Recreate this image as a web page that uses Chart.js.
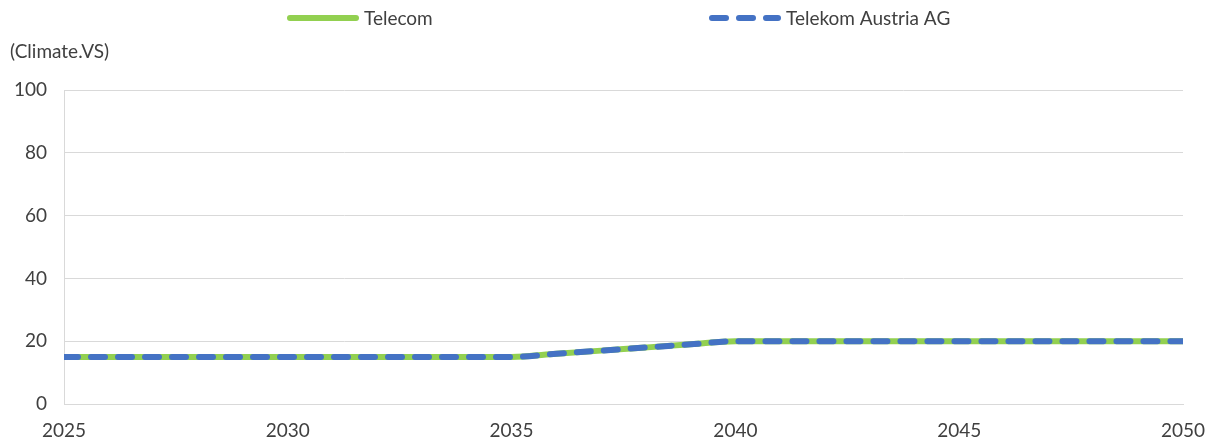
<!DOCTYPE html>
<html>
<head>
<meta charset="utf-8">
<script src="https://cdn.jsdelivr.net/npm/chart.js@4.4.1/dist/chart.umd.min.js"></script>
<style>
  html, body { margin: 0; padding: 0; background: #ffffff; }
  #wrap { position: relative; width: 1206px; height: 442px; }
</style>
</head>
<body>
<div id="wrap"><canvas id="chart"></canvas></div>
<script>
  var years = [2025, 2026, 2027, 2028, 2029, 2030, 2031, 2032, 2033, 2034, 2035, 2036, 2037,
    2038, 2039, 2040, 2041, 2042, 2043, 2044, 2045, 2046, 2047, 2048, 2049, 2050];
  var telecom = [15, 15, 15, 15, 15, 15, 15, 15, 15, 15, 15, 16, 17,
    18, 19, 20, 20, 20, 20, 20, 20, 20, 20, 20, 20, 20];
  var telekomAustria = [15, 15, 15, 15, 15, 15, 15, 15, 15, 15, 15, 16, 17,
    18, 19, 20, 20, 20, 20, 20, 20, 20, 20, 20, 20, 20];
  var seriesNames = ['Telecom', 'Telekom Austria AG'];
  var yTicks = [0, 20, 40, 60, 80, 100];
  var xTicks = [2025, 2030, 2035, 2040, 2045, 2050];
  var unitLabel = '(Climate.VS)';

  var textColor = '#404040';
  var gridColor = '#d9d9d9';
  var fontFamily = 'Lato, "Open Sans", sans-serif';
  var fontSize = 19;

  function points(values) {
    return years.map(function (y, i) {
      return { x: y, y: values[i] };
    });
  }

  // legend drawn by hand: Excel-style spacing cannot be done with built-in legend
  var extras = {
    id: 'extras',
    afterDraw: function (chart) {
      var ctx = chart.ctx;
      var items = [
        { ds: chart.data.datasets[0], x: 287 },
        { ds: chart.data.datasets[1], x: 709 },
      ];
      ctx.save();
      ctx.font = fontSize + 'px ' + fontFamily;
      ctx.textBaseline = 'middle';
      ctx.fillStyle = textColor;
      items.forEach(function (it) {
        var y = 18;
        ctx.beginPath();
        ctx.strokeStyle = it.ds.borderColor;
        ctx.lineWidth = it.ds.borderWidth;
        ctx.lineCap = 'round';
        ctx.setLineDash(it.ds.borderDash || []);
        ctx.moveTo(it.x + 3, y);
        ctx.lineTo(it.x + 69, y);
        ctx.stroke();
        ctx.setLineDash([]);
        ctx.fillText(it.ds.label, it.x + 77, y + 1);
      });
      ctx.textAlign = 'left';
      ctx.fillText(unitLabel, 10, 52);
      ctx.restore();
    },
  };

  new Chart(document.getElementById('chart'), {
    type: 'line',
    data: {
      datasets: [
        {
          label: seriesNames[0],
          data: points(telecom),
          borderColor: '#92d050',
          borderWidth: 6,
          borderCapStyle: 'butt',
          cubicInterpolationMode: 'monotone',
          pointRadius: 0,
          fill: false,
          order: 2,
        },
        {
          label: seriesNames[1],
          data: points(telekomAustria),
          borderColor: '#4472c4',
          borderWidth: 6,
          borderDash: [14, 13],
          borderCapStyle: 'round',
          cubicInterpolationMode: 'monotone',
          pointRadius: 0,
          fill: false,
          order: 1,
        },
      ],
    },
    options: {
      responsive: true,
      maintainAspectRatio: false,
      animation: false,
      layout: { padding: { top: 90, right: 23, left: 0, bottom: 0 } },
      plugins: {
        legend: { display: false },
        tooltip: { enabled: false },
      },
      scales: {
        x: {
          type: 'linear',
          min: xTicks[0],
          max: xTicks[xTicks.length - 1],
          afterBuildTicks: function (scale) {
            scale.ticks = xTicks.map(function (v) { return { value: v }; });
          },
          afterFit: function (scale) {
            scale.height = 38;
            scale.paddingLeft = 0;
            scale.paddingRight = 0;
          },
          ticks: {
            color: textColor,
            font: { family: fontFamily, size: fontSize },
            padding: 15,
            maxRotation: 0,
            callback: function (v) { return String(v); },
          },
          grid: { display: false, drawTicks: false },
          border: { display: true, color: gridColor, width: 1 },
        },
        y: {
          min: yTicks[0],
          max: yTicks[yTicks.length - 1],
          afterBuildTicks: function (scale) {
            scale.ticks = yTicks.map(function (v) { return { value: v }; });
          },
          afterFit: function (scale) {
            scale.width = 64;
            scale.paddingTop = 0;
            scale.paddingBottom = 0;
          },
          ticks: {
            color: textColor,
            font: { family: fontFamily, size: fontSize },
            padding: 17,
          },
          grid: { color: gridColor, lineWidth: 1, drawTicks: false },
          border: { display: true, color: gridColor, width: 1 },
        },
      },
    },
    plugins: [extras],
  });
</script>
</body>
</html>
